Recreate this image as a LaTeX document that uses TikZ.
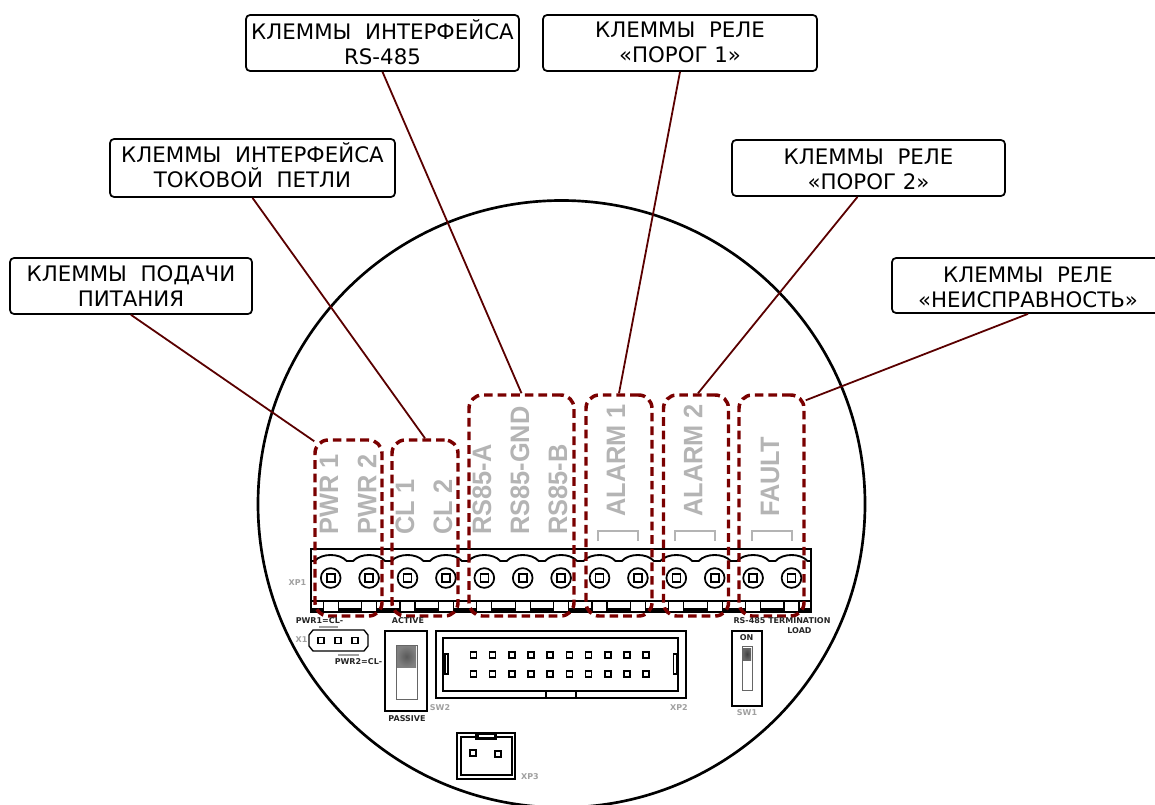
\documentclass[tikz,border=0pt]{standalone}
\usepackage{fontspec}
\setmainfont{DejaVu Sans}
\newfontfamily\labfont{Liberation Sans}
\usetikzlibrary{fit,calc}
\definecolor{zonered}{HTML}{7A0000}
\definecolor{leader}{HTML}{5A0000}
\definecolor{labgray}{HTML}{B4B4B4}
\definecolor{refgray}{HTML}{A0A0A0}
\tikzset{
  callout/.style={draw=black,line width=1.3pt,rounded corners=3pt,inner sep=0pt},
  calltext/.style={inner sep=0pt,align=center,font=\fontsize{16}{18.75}\selectfont},
  zone/.style={draw=zonered,line width=2.6pt,dash pattern=on 6.5pt off 3.7pt,rounded corners=10pt,inner sep=0pt},
  lead/.style={draw=leader,line width=1.35pt},
  termlab/.style={text=labgray,rotate=90,anchor=west,inner sep=0pt,font=\labfont\bfseries\fontsize{20}{20}\selectfont,xscale=.95},
  sm/.style={inner sep=0pt,font=\bfseries\fontsize{6}{7}\selectfont,text=black!85},
  smg/.style={sm,text=refgray},
  part/.style={draw=black,line width=1.5pt,fill=white},
  thin part/.style={draw=black,line width=1pt,fill=white},
  pin/.style={draw=black,line width=1.2pt,fill=white},
  brk/.style={draw=labgray,line width=1.4pt}
}
\begin{document}
\begin{tikzpicture}[x=0.75pt,y=-0.75pt]
\useasboundingbox (0,0) rectangle (1155,805);
\clip (0,0) rectangle (1155,805);
\fill[white] (0,0) rectangle (1155,805);
% body
\draw[line width=2pt,black] (561.5,504) circle [radius=303.5*0.75pt];
% terminal block
\draw[thin part] (311,549) rectangle (811,612);
\draw[line width=1.4pt,black] (311,561)
  \foreach \c in {330.7,369.1,407.5,445.9,484.3,522.7,561.1,599.5,637.9,676.3,714.7,753.1,791.5} { -- ({\c-16},561) .. controls ({\c-9},553) and ({\c+9},553) .. ({\c+16},561) } -- (811,561);
\foreach \c in {330.7,369.1,407.5,445.9,484.3,522.7,561.1,599.5,637.9,676.3,714.7,753.1,791.5} {
  \draw[line width=1.3pt] (\c,578) circle [radius=7.4pt];
  \draw[pin] ({\c-4},574) rectangle ({\c+4},582);
}
\draw[line width=1.2pt] (311,601) -- (811,601);
\draw[line width=2.4pt] (311,610) -- (811,610);
\foreach \c in {330.7,369.1,407.5,445.9,484.3,522.7,561.1,599.5,637.9,676.3,714.7,753.1,791.5} {
  \draw[line width=.8pt,fill=white] ({\c-7.5},601) rectangle ({\c+7.5},612);
}
% terminal labels
\node[termlab] (lp1) at (329,535) {PWR 1};
\node[termlab] (lp2) at (367,535) {PWR 2};
\node[termlab] (lc1) at (405,535) {CL 1};
\node[termlab] (lc2) at (443,535) {CL 2};
\node[termlab] (lra) at (482,535) {RS85-A};
\node[termlab] (lrg) at (520,535) {RS85-GND};
\node[termlab] (lrb) at (558,535) {RS85-B};
\node[termlab] (la1) at (616,517) {ALARM 1};
\node[termlab] (la2) at (693,517) {ALARM 2};
\node[termlab] (lf) at (770,517) {FAULT};
\foreach \a in {598,675,752} {
  \draw[brk] (\a,541) -- (\a,531) -- ({\a+40},531) -- ({\a+40},541);
}
% zones
\node[zone,fit={(315,440)(382,616)}] (zpwr) {};
\node[zone,fit={(392,440)(458,616)}] (zcl) {};
\node[zone,fit={(469,395)(574,616)}] (zrs) {};
\node[zone,fit={(586,395)(652,616)}] (zal1) {};
\node[zone,fit={(663.5,395)(728.5,616)}] (zal2) {};
\node[zone,fit={(739,395)(804,616)}] (zflt) {};
% callouts
\node[callout,minimum width=181.5pt,minimum height=42pt] (cpwr) at (131,286) {};
\node[calltext] (tpwrc) at (131,286) {КЛЕММЫ\ \ ПОДАЧИ\\ПИТАНИЯ};
\node[callout,minimum width=213.75pt,minimum height=43.5pt] (ccl) at (252.5,168) {};
\node[calltext] (tclc) at (252.5,165) {КЛЕММЫ\ \ ИНТЕРФЕЙСА\\ТОКОВОЙ\ \ ПЕТЛИ};
\node[callout,minimum width=204.75pt,minimum height=42pt] (crs) at (382.5,43) {};
\node[calltext] (trsc) at (382.5,42) {КЛЕММЫ\ \ ИНТЕРФЕЙСА\\RS-485};
\node[callout,minimum width=205.5pt,minimum height=42pt] (cal1) at (680,43) {};
\node[calltext] (tal1c) at (680,42) {КЛЕММЫ\ \ РЕЛЕ\\«ПОРОГ 1»};
\node[callout,minimum width=204.75pt,minimum height=42pt] (cal2) at (868.5,168) {};
\node[calltext] (tal2c) at (868.5,169) {КЛЕММЫ\ \ РЕЛЕ\\«ПОРОГ 2»};
\node[callout,minimum width=204pt,minimum height=41.25pt] (cflt) at (1028,285.5) {};
\node[calltext] (tfltc) at (1028,287) {КЛЕММЫ\ \ РЕЛЕ\\«НЕИСПРАВНОСТЬ»};
% leaders
\draw[lead] (cpwr.south) -- ($(zpwr.north west)+(1,3)$);
\draw[lead] (ccl.south) -- (zcl.north);
\draw[lead] (crs.south) -- (zrs.north);
\draw[lead] (cal1.south) -- (zal1.north);
\draw[lead] ($(cal2.south)+(-11,0)$) -- ($(zal2.north)+(2,0)$);
\draw[lead] (cflt.south) -- ($(zflt.north east)+(0,7)$);
% small labels
\node[smg] (txp1) at (297.5,583) {XP1};
\node[sm] (tpwr1) at (319.5,621) {PWR1=CL-};
\draw[line width=1pt,refgray] (319,627) -- (338,627);
\node[sm] (tact) at (408,621) {ACTIVE};
\node[smg] (tx1) at (301.5,640) {X1};
\node[sm] (tpwr2) at (358.5,662) {PWR2=CL-};
\draw[line width=1pt,refgray] (338,655) -- (359,655);
\node[sm] (tpas) at (407,719) {PASSIVE};
\node[smg] (tsw2) at (440,708) {SW2};
\node[smg] (txp2) at (679,708) {XP2};
\node[smg] (tsw1) at (747,713) {SW1};
\node[smg] (txp3) at (530,777) {XP3};
\node[sm] (trs) at (782,621) {RS-485 TERMINATION};
\node[sm] (tload) at (799.5,631) {LOAD};
% X1
\draw[thin part] (313,630) -- (364,630) -- (368,635) -- (368,646) -- (364,651) -- (313,651) -- (309,646) -- (309,635) -- cycle;
\foreach \p in {321,338,355} \draw[pin] ({\p-3},637.5) rectangle ({\p+3},643.5);
% SW2
\draw[part] (385,631) rectangle (427,711);
\draw[line width=.6pt,draw=black!60,fill=white] (396,645) rectangle (417,699);
\shade[inner color=black!65,outer color=black!50] (397,646) rectangle (416,667);
% XP2
\draw[part] (436,631) rectangle (686,698);
\draw[thin part] (443,638) rectangle (678,691);
\draw[line width=.8pt,fill=white] (445,654) rectangle (448,674);
\draw[line width=.8pt,fill=white] (673.5,654) rectangle (677,674);
\draw[line width=.8pt,fill=white] (546,691) rectangle (576,698);
\foreach \i in {0,...,9} { \foreach \y in {654.7,674} {
  \draw[pin] ({473.3+19.2*\i-3},{\y-3}) rectangle ({473.3+19.2*\i+3},{\y+3});
}}
% SW1
\draw[part] (731.5,631) rectangle (762,706);
\draw[line width=.6pt,draw=black!60,fill=white] (742,646) rectangle (752,690);
\shade[inner color=black!75,outer color=black!60] (743,648) rectangle (751,660);
\node[sm] (ton) at (746.5,638) {ON};
% XP3
\draw[part] (457,733) rectangle (515,779);
\draw[thin part] (461,737) rectangle (512,775);
\draw[line width=1pt,fill=black] (476,733) rectangle (496,739);
\draw[line width=.6pt,fill=white] (478,734) rectangle (494,737);
\draw[pin] (470,750) rectangle (476,756);
\draw[pin] (495,751) rectangle (501,757);
\end{tikzpicture}
\end{document}
